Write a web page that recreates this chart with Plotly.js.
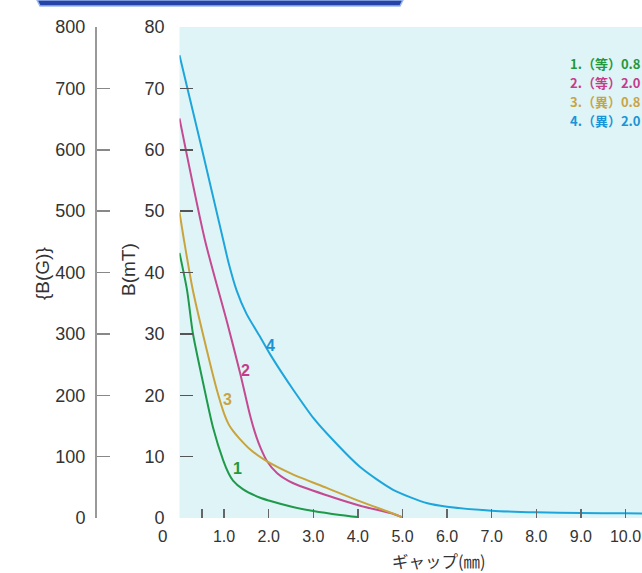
<!DOCTYPE html>
<html>
<head>
<meta charset="utf-8">
<script src="https://cdn.plot.ly/plotly-3.0.1.min.js"></script>
<style>html,body{margin:0;padding:0;background:#fff;}#chart{width:642px;height:573px;}</style>
</head>
<body>
<div id="chart"></div>
<script>
// ---- data ----
const gap1 = [0, 0.17, 0.30, 0.53, 0.75, 0.98, 1.1, 1.2, 1.42, 1.81, 2.0, 2.54, 3.0, 3.6, 4.0];
const b1   = [43.2, 37.1, 30.1, 22.0, 14.8, 9.4, 7.3, 6.1, 4.7, 3.3, 2.85, 1.8, 1.15, 0.5, 0.15];

const gap2 = [0, 0.57, 1.07, 1.36, 1.58, 1.72, 1.82, 1.96, 2.19, 2.54, 3.3, 4.05, 4.8, 5.0];
const b2   = [65.1, 45.3, 31.8, 23.6, 16.8, 13.3, 11.4, 9.3, 7.3, 5.7, 3.7, 2.0, 0.65, 0.1];

const gap3 = [0, 0.1, 0.30, 0.61, 0.84, 1.0, 1.1, 1.2, 1.35, 1.58, 1.9, 2.54, 3.3, 4.05, 4.8, 5.0];
const b3   = [49.8, 45.3, 37.1, 27.4, 20.8, 17.0, 15.3, 14.2, 12.9, 11.2, 9.5, 7.1, 4.9, 2.7, 0.7, 0.1];

const gap4 = [0, 0.5, 0.98, 1.1, 1.28, 1.5, 1.8, 2.03, 2.3, 2.55, 3.0, 3.3, 4.05, 4.79, 5.56, 6.0, 7.0, 8.0, 9.0, 10.0, 10.4];
const b4   = [75.4, 60.2, 45.3, 41.6, 37.1, 33.3, 29.6, 26.7, 23.6, 20.9, 16.3, 13.8, 8.3, 4.6, 2.4, 1.85, 1.2, 0.93, 0.81, 0.76, 0.75];

const seriesNames = ['1.（等）0.8', '2.（等）2.0', '3.（異）0.8', '4.（異）2.0'];
const curveLabels = ['1', '2', '3', '4'];
const xTickVals = [0.5, 1, 2, 3, 4, 5, 6, 7, 8, 9, 10];
const xTickText = ['', '1.0', '2.0', '3.0', '4.0', '5.0', '6.0', '7.0', '8.0', '9.0', '10.0'];
const mTTicks = [0, 10, 20, 30, 40, 50, 60, 70, 80];
const gaussTicks = [0, 100, 200, 300, 400, 500, 600, 700, 800];

// ---- styles ----
const colors = ['#1e9a4a', '#c44a92', '#c9a43c', '#1ea6dc'];
const textColors = ['#23983c', '#c43c8c', '#c8a448', '#1a94d6'];
const numFont = 'Liberation Sans, Arial, sans-serif';
const cjkFont = 'Noto Sans CJK JP, sans-serif';

const xs = [gap1, gap2, gap3, gap4];
const ys = [b1, b2, b3, b4];
const traces = xs.map((x, i) => ({
  x: x, y: ys[i], type: 'scatter', mode: 'lines', name: seriesNames[i],
  line: {color: colors[i], width: 2, shape: 'spline', smoothing: 0.7},
  hoverinfo: 'skip'
}));
traces.push({x: [], y: [], yaxis: 'y2', type: 'scatter', mode: 'lines', showlegend: false});

const W = 642, H = 573, mt = 27, mb = 55;
const plotH = H - mt - mb;
const py = p => (H - mb - p) / plotH; // pixel y -> paper y

const annotations = [];
// legend as coloured text
seriesNames.forEach((n, i) => {
  annotations.push({
    xref: 'paper', yref: 'paper', x: 570 / W, y: py(63 + i * 19.2),
    xanchor: 'left', yanchor: 'middle', align: 'left', showarrow: false,
    borderpad: 0, borderwidth: 0,
    text: '<b>' + n + '</b>', font: {family: cjkFont, size: 13, color: textColors[i]}
  });
});
// curve labels
const labelPos = [[1.31, 8.0], [1.47, 24.0], [1.07, 19.3], [2.04, 28.1]];
curveLabels.forEach((t, i) => {
  annotations.push({
    x: labelPos[i][0], y: labelPos[i][1], xref: 'x', yref: 'y', showarrow: false,
    xanchor: 'center', yanchor: 'middle',
    text: '<b>' + t + '</b>', font: {family: numFont, size: 16, color: textColors[i]}
  });
});
// axis titles
annotations.push({xref: 'paper', yref: 'paper', x: 42 / W, y: py(273), showarrow: false,
  xanchor: 'center', yanchor: 'middle',
  text: '{B(G)}', textangle: -90, font: {family: numFont, size: 19, color: '#333'}});
annotations.push({xref: 'paper', yref: 'paper', x: 128 / W, y: py(270), showarrow: false,
  xanchor: 'center', yanchor: 'middle',
  text: 'B(mT)', textangle: -90, font: {family: numFont, size: 19, color: '#333'}});
annotations.push({xref: 'paper', yref: 'paper', x: 439 / W, y: py(561), showarrow: false,
  xanchor: 'center', yanchor: 'middle', borderpad: 0,
  text: 'ギャップ(㎜)', font: {family: cjkFont, size: 16.5, color: '#333'}});
annotations.push({xref: 'paper', yref: 'paper', x: 163 / W, y: py(536), showarrow: false,
  xanchor: 'center', yanchor: 'middle',
  text: '0', font: {family: numFont, size: 17, color: '#333'}});

const layout = {
  width: W, height: H,
  margin: {l: 0, r: 0, t: mt, b: mb, pad: 0},
  paper_bgcolor: '#ffffff',
  plot_bgcolor: '#dff4f6',
  showlegend: false,
  xaxis: {
    domain: [179.5 / W, 1], range: [0, (W - 179.5) / 44.6],
    tickmode: 'array', tickvals: xTickVals, ticktext: xTickText,
    ticks: 'inside', ticklen: 9, tickwidth: 1.5, tickcolor: '#666',
    showgrid: false, zeroline: false, showline: false,
    tickfont: {family: numFont, size: 16, color: '#333'}, ticklabelstandoff: 7
  },
  yaxis: {
    range: [0, 80], tickmode: 'array', tickvals: mTTicks,
    ticks: 'inside', ticklen: 13, tickwidth: 1.5, tickcolor: '#555',
    showgrid: false, zeroline: false, showline: false,
    tickfont: {family: numFont, size: 18, color: '#333'}, ticklabelstandoff: 14
  },
  yaxis2: {
    overlaying: 'y', anchor: 'free', position: 96 / W, side: 'left',
    range: [0, 800], tickmode: 'array', tickvals: gaussTicks,
    ticks: 'inside', ticklen: 13, tickwidth: 1.5, tickcolor: '#888',
    showline: true, linecolor: '#999', linewidth: 2,
    showgrid: false, zeroline: false,
    tickfont: {family: numFont, size: 18, color: '#333'}, ticklabelstandoff: 6
  },
  shapes: [{
    type: 'path', xref: 'paper', yref: 'paper',
    path: 'M ' + (37 / W) + ' ' + py(0) + ' L ' + (403 / W) + ' ' + py(0) +
          ' L ' + (400 / W) + ' ' + py(6) + ' L ' + (40 / W) + ' ' + py(6) + ' Z',
    fillcolor: '#2444aa', line: {color: '#9bb8ec', width: 1.5}
  }],
  annotations: annotations
};

Plotly.newPlot('chart', traces, layout, {staticPlot: true, displayModeBar: false});
</script>
</body>
</html>
